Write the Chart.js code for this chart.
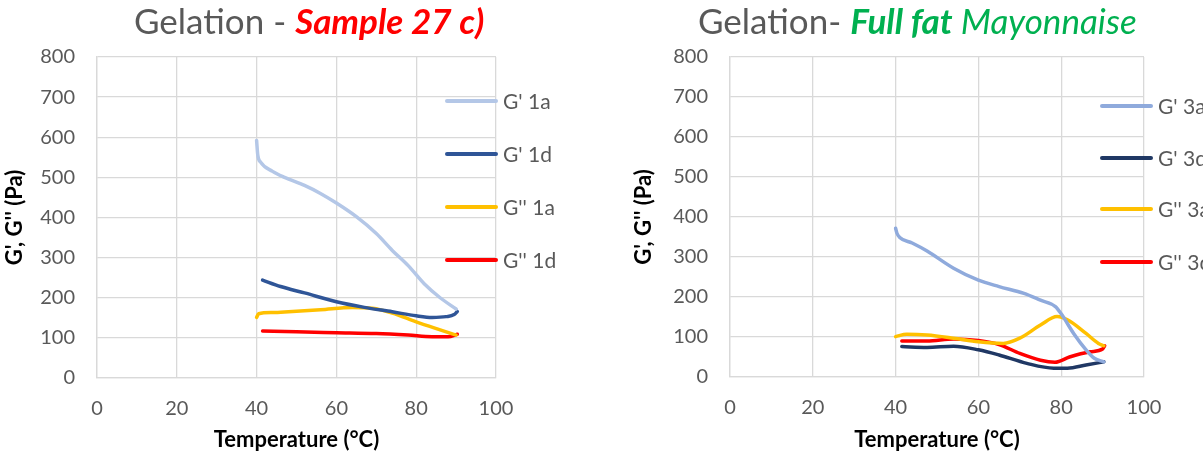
<!DOCTYPE html>
<html lang="en">
<head>
<meta charset="UTF-8">
<title>Gelation</title>
<script src="https://cdn.jsdelivr.net/npm/chart.js"></script>
<style>
    html, body { margin: 0; padding: 0; background: #fff; overflow: hidden; }
    body { width: 1203px; height: 455px; position: relative; font-family: Lato, "Open Sans", sans-serif; }
    .box { position: absolute; top: 0; height: 455px; }
    .title { position: absolute; top: 0; font-size: 35px; color: #595959; white-space: nowrap; line-height: 40px; }
    .legend { position: absolute; font-size: 21px; color: #595959; white-space: nowrap; }
    .legend div { position: absolute; left: 0; height: 26px; line-height: 26px; }
    .legend span.sw { position: absolute; left: 0; top: 11px; width: 53px; height: 4px; border-radius: 2px; }
    .legend span.tx { position: absolute; left: 58px; }
</style>
</head>
<body>
<div class="box" id="leftBox" style="left:0;width:600px;">
    <canvas id="leftChart"></canvas>
</div>
<div class="box" id="rightBox" style="left:600px;width:603px;">
    <canvas id="rightChart"></canvas>
</div>

<div class="title" style="left:134px;">Gelation - <b style="color:#FF0000;font-style:italic;">Sample 27 c)</b></div>
<div class="title" style="left:698px;">Gelation- <span style="color:#00B050;font-style:italic;"><b>Full fat</b> Mayonnaise</span></div>

<div class="legend" id="leftLegend" style="left:445px;top:0;"></div>
<div class="legend" id="rightLegend" style="left:1100px;top:0;"></div>

<script>
// Sample 27 c)
const t1a = [40, 40.3, 41, 44, 47, 52, 56, 60, 65, 70, 74, 78, 82, 86, 90];
const gp1a = [592, 555, 538, 515, 500, 480, 460, 436, 402, 360, 318, 280, 235, 200, 172];
const t1d = [41.5, 46, 52, 60, 67, 74, 80, 84, 87.5, 89.5, 90.3];
const gp1d = [244, 228, 212, 190, 176, 165, 155, 151, 153, 158, 166];
const t1a2 = [40, 40.5, 44, 48, 56, 64, 69, 74, 80, 86, 90];
const gpp1a = [151, 160, 163, 165, 170, 176, 174, 162, 140, 120, 107];
const t1d2 = [41.5, 50, 60, 70, 78, 84, 88, 90.3];
const gpp1d = [117, 115, 113, 111, 107, 103, 103, 109];

// Full fat mayonnaise
const t3a = [40, 40.3, 41, 44, 47.6, 54, 60, 65, 71, 75, 78.6, 80, 83, 86, 88, 90.3];
const gp3a = [372, 360, 349, 335, 315, 272, 242, 226, 209, 192, 176, 158, 109, 68, 47, 38];
const t3d = [41.5, 47.6, 54, 60, 65, 71.7, 78.2, 81.5, 86, 90.3];
const gp3d = [76, 74, 77, 68, 55, 34, 22, 22, 30, 38];
const t3a2 = [40, 42.7, 47.6, 54, 60, 66, 70, 75, 79, 81.5, 86, 89, 90.3];
const gpp3a = [101, 107, 105, 97, 88, 84, 97, 130, 151, 143, 109, 84, 78];
const t3d2 = [41.5, 47.6, 54, 60, 65, 70, 75, 78.5, 82, 87, 90, 90.5];
const gpp3d = [90, 90, 95, 91, 81, 59, 42, 37, 50, 63, 70, 78];

const xTicks = [0, 20, 40, 60, 80, 100];
const yTicks = [0, 100, 200, 300, 400, 500, 600, 700, 800];
const xLabel = 'Temperature (°C)';
const yLabel = "G', G'' (Pa)";

const leftSeries = [
    { label: "G' 1a", x: t1a, y: gp1a, color: '#B4C7E7' },
    { label: "G' 1d", x: t1d, y: gp1d, color: '#2F5597' },
    { label: "G'' 1a", x: t1a2, y: gpp1a, color: '#FFC000' },
    { label: "G'' 1d", x: t1d2, y: gpp1d, color: '#FF0000' }
];
const rightSeries = [
    { label: "G' 3a", x: t3a, y: gp3a, color: '#8FAADC' },
    { label: "G' 3d", x: t3d, y: gp3d, color: '#203864' },
    { label: "G'' 3a", x: t3a2, y: gpp3a, color: '#FFC000' },
    { label: "G'' 3d", x: t3d2, y: gpp3d, color: '#FF0000' }
];

function makeChart(canvasId, series, yAxisWidth, xAxisHeight, padRight, yTitlePad) {
    const grid = { color: '#D9D9D9', lineWidth: 1.3, drawTicks: false };
    return new Chart(document.getElementById(canvasId), {
        type: 'line',
        data: {
            datasets: series.map(s => ({
                label: s.label,
                data: s.x.map((v, i) => ({ x: v, y: s.y[i] })),
                borderColor: s.color,
                backgroundColor: s.color,
                borderWidth: 3.5,
                borderCapStyle: 'round',
                pointRadius: 0,
                cubicInterpolationMode: 'monotone',
                fill: false
            }))
        },
        options: {
            responsive: true,
            maintainAspectRatio: false,
            animation: false,
            layout: { padding: { top: 57, right: padRight, left: 0, bottom: 0 } },
            plugins: { legend: { display: false }, title: { display: false }, tooltip: { enabled: false } },
            scales: {
                x: {
                    type: 'linear', min: 0, max: 100,
                    afterBuildTicks: s => { s.ticks = xTicks.map(v => ({ value: v })); },
                    afterFit: s => { s.height = xAxisHeight; },
                    grid: grid,
                    border: { color: '#D9D9D9', width: 1.3 },
                    ticks: { color: '#595959', font: { family: 'Lato', size: 20 }, padding: 19, maxRotation: 0 },
                    title: { display: true, text: xLabel, color: '#000', font: { family: 'Lato', size: 22, weight: 'bold' }, padding: { top: 0, bottom: 2 } }
                },
                y: {
                    type: 'linear', min: 0, max: 800,
                    afterBuildTicks: s => { s.ticks = yTicks.map(v => ({ value: v })); },
                    afterFit: s => { s.width = yAxisWidth; },
                    grid: grid,
                    border: { color: '#D9D9D9', width: 1.3 },
                    ticks: { color: '#595959', font: { family: 'Lato', size: 20 }, padding: 22 },
                    title: { display: true, text: yLabel, color: '#000', font: { family: 'Lato', size: 22, weight: 'bold' }, padding: { top: yTitlePad, bottom: 0 } }
                }
            }
        }
    });
}

function makeLegend(id, series, tops) {
    const el = document.getElementById(id);
    series.forEach((s, i) => {
        const row = document.createElement('div');
        row.style.top = (tops[i] - 13) + 'px';
        row.innerHTML = '<span class="sw" style="background:' + s.color + '"></span><span class="tx">' + s.label + '</span>';
        el.appendChild(row);
    });
}

makeChart('leftChart', leftSeries, 97, 77, 104, 2);
makeChart('rightChart', rightSeries, 130, 78, 59, 31);
makeLegend('leftLegend', leftSeries, [101, 154, 207, 260]);
makeLegend('rightLegend', rightSeries, [106, 158, 209, 262]);
</script>
</body>
</html>
